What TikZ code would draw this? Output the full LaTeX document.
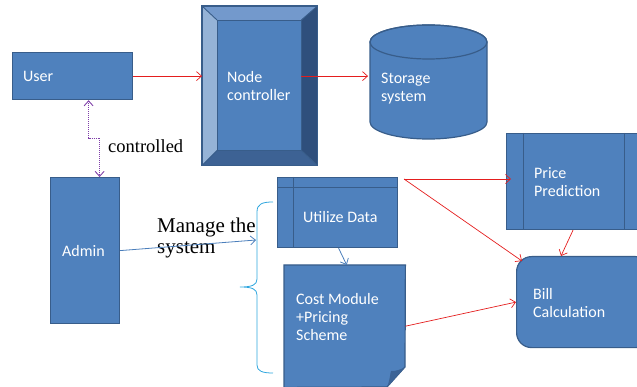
\documentclass[tikz,border=0pt]{standalone}
\usepackage{fontspec}
\setmainfont{Carlito}
\newfontfamily\serifF{Liberation Serif}
\usetikzlibrary{arrows.meta,calc}
\definecolor{boxfill}{HTML}{4F81BD}
\definecolor{boxline}{HTML}{385D8A}
\definecolor{bevT}{HTML}{7399CC}
\definecolor{bevL}{HTML}{95B3D7}
\definecolor{bevR}{HTML}{2F4F7C}
\definecolor{bevB}{HTML}{3D6294}
\definecolor{foldc}{HTML}{3B6396}
\definecolor{arrred}{HTML}{E41E1E}
\definecolor{arrpurple}{HTML}{7F3FA8}
\definecolor{arrblue}{HTML}{4A7EBB}
\definecolor{bracec}{HTML}{2EA6DE}
\tikzset{
  box/.style={draw=boxline, fill=boxfill, line width=1.2pt, inner sep=0pt, anchor=north west},
  ghost/.style={draw=none, fill=none, inner sep=0pt, anchor=north west},
  lbl/.style={text=white, font=\fontsize{16}{18}\selectfont, align=left, inner sep=0pt, anchor=west},
  serif/.style={text=black, align=left, inner sep=0pt, anchor=west},
  redarrow/.style={draw=arrred, line width=0.7pt, -{Straight Barb[length=5pt,width=9pt]}},
  bluearrow/.style={draw=arrblue, line width=0.8pt, -{Straight Barb[length=5pt,width=9pt]}},
  purplearrow/.style={draw=arrpurple, line width=0.9pt, dash pattern=on 1pt off 1pt, {Straight Barb[length=5pt,width=9pt]}-{Straight Barb[length=5pt,width=9pt]}},
  bracestyle/.style={draw=bracec, line width=0.8pt},
  thinline/.style={draw=boxline, line width=0.9pt}
}
\begin{document}
\begin{tikzpicture}[x=1pt,y=-1pt]
\useasboundingbox (0,0) rectangle (637,387);
\clip (0,0) rectangle (637,387);

% User
\node[box, minimum width=120pt, minimum height=47pt] (user) at (12,52) {};
\node[lbl] (userT) at (23,76) {User};

% Node controller (bevel)
\node[ghost, minimum width=115pt, minimum height=159pt] (nc) at (202,6) {};
\node[ghost, minimum width=84pt, minimum height=130pt] (ncface) at (217,20) {};
\fill[bevT] (nc.north west) -- (nc.north east) -- (ncface.north east) -- (ncface.north west) -- cycle;
\fill[bevL] (nc.north west) -- (ncface.north west) -- (ncface.south west) -- (nc.south west) -- cycle;
\fill[bevR] (nc.north east) -- (nc.south east) -- (ncface.south east) -- (ncface.north east) -- cycle;
\fill[bevB] (nc.south west) -- (ncface.south west) -- (ncface.south east) -- (nc.south east) -- cycle;
\fill[boxfill] (ncface.north west) rectangle (ncface.south east);
\draw[thinline] (ncface.north west) rectangle (ncface.south east);
\draw[thinline] (nc.north west) -- (ncface.north west) (nc.north east) -- (ncface.north east)
  (nc.south west) -- (ncface.south west) (nc.south east) -- (ncface.south east);
\draw[draw=boxline, line width=1.2pt] (nc.north west) rectangle (nc.south east);
\node[lbl] (ncT) at (227,86) {Node\\controller};

% Storage cylinder
\node[ghost, minimum width=117pt, minimum height=121pt] (storage) at (370,18) {};
\filldraw[fill=boxfill, draw=boxline, line width=1.2pt]
  (370,42) -- (370,122) arc[start angle=180, end angle=360, x radius=58.5pt, y radius=17pt]
  -- (487,42) arc[start angle=0, end angle=180, x radius=58.5pt, y radius=17pt] -- cycle;
\draw[draw=boxline, line width=1.2pt] (428.5,42) ellipse [x radius=58.5pt, y radius=17pt];
\node[lbl] (storageT) at (381,89) {Storage\\system};

% Admin
\node[box, minimum width=69pt, minimum height=146pt] (admin) at (50,177) {};
\node[lbl] (adminT) at (62,251) {Admin};

% Utilize data
\node[box, minimum width=120pt, minimum height=70pt] (util) at (277,177) {};
\draw[thinline] ($(util.north west)+(0,10)$) -- ($(util.north east)+(0,10)$);
\draw[thinline] ($(util.north west)+(16,0)$) -- ($(util.south west)+(16,0)$);
\node[lbl] (utilT) at (303,217) {Utilize Data};

% Cost module (document)
\node[ghost, minimum width=121pt, minimum height=122pt] (cost) at (284,265) {};
\filldraw[fill=boxfill, draw=boxline, line width=1.2pt]
  (cost.north west) -- (cost.north east) -- (405,367) -- (387,387) -- (cost.south west) -- cycle;
\fill[foldc] (405,367) -- (387,387) .. controls (390,380) and (390,374) .. (391,371) .. controls (396,371) and (400,370) .. (405,367) -- cycle;
\node[lbl] (costT) at (296,317) {Cost Module\\+Pricing\\Scheme};

% Price prediction
\node[box, minimum width=140pt, minimum height=96pt] (price) at (506,133) {};
\draw[thinline] ($(price.north west)+(17,0)$) -- ($(price.south west)+(17,0)$);
\draw[thinline] ($(price.north west)+(118,0)$) -- ($(price.south west)+(118,0)$);
\node[lbl] (priceT) at (534,182) {Price\\Prediction};

% Bill calculation
\node[box, rounded corners=15pt, minimum width=134pt, minimum height=91pt] (bill) at (516,256) {};
\node[lbl] (billT) at (533,303) {Bill\\Calculation};

% Texts
\node[serif, font=\serifF\fontsize{18.5}{20}\selectfont] (ctrlT) at (108,146) {controlled};
\node[serif, font=\serifF\fontsize{21}{21}\selectfont] (manageT) at (157,238) {Manage the\\system};

% Brace
\coordinate (braceA) at (256,240);
\draw[bracestyle] (273,202) .. controls (262,202) and (257,204) .. (257,212) -- (257,279)
  .. controls (257,285) and (252,287) .. (240,287)
  .. controls (252,287) and (257,289) .. (257,295) -- (257,365)
  .. controls (257,371) and (262,373) .. (273,373);

% Connectors
\draw[redarrow] (user.east) -- (user.east -| nc.west);
\draw[redarrow] (user.east -| ncface.east) -- ($(user.east -| storage.west)+(-2,0)$);
\draw[purplearrow] ($(user.south)+(16,0)$) -- ++(0,38) -| ($(admin.north)+(14.5,0)$);
\draw[bluearrow] (admin.east) -- (braceA);
\draw[bluearrow] ($(util.south)+(1,0)$) -- ($(cost.north)+(2,0)$);
\coordinate (fork) at (404,179);
\draw[redarrow] (fork) -- ($(fork -| price.west)+(5,0)$);
\draw[redarrow] (fork) -- ($(bill.north west)+(6,5)$);
\draw[redarrow] ($(price.south west)+(67,0)$) -- ($(bill.north west)+(45,0)$);
\draw[redarrow] (cost.east) -- (bill.west);
\end{tikzpicture}
\end{document}
